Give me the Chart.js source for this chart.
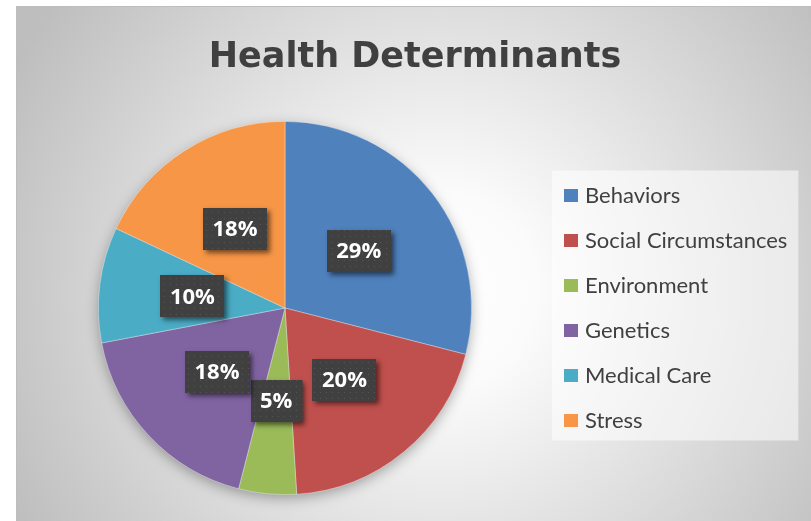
<!DOCTYPE html>
<html>
<head>
<meta charset="utf-8">
<script src="https://cdn.jsdelivr.net/npm/chart.js@4"></script>
<style>
  html, body { margin: 0; padding: 0; background: #ffffff; }
  #c { display: block; }
</style>
</head>
<body>
<canvas id="c" width="811" height="521"></canvas>
<script>
const chartTitle = "Health Determinants";
const categories = ["Behaviors", "Social Circumstances", "Environment", "Genetics", "Medical Care", "Stress"];
const shares = [29, 20, 5, 18, 10, 18];
const sliceColors = ["#4F81BD", "#C0504D", "#9BBB59", "#8064A2", "#4BACC6", "#F79646"];

const backgroundPlugin = {
  id: 'bg',
  beforeDraw(chart) {
    const ctx = chart.ctx;
    const W = chart.width, H = chart.height;
    ctx.save();
    ctx.fillStyle = '#ffffff';
    ctx.fillRect(0, 0, W, H);
    const x0 = 16, y0 = 6;
    const cx = 440, cy = 290;
    const g = ctx.createRadialGradient(cx, cy, 0, cx, cy, 480);
    g.addColorStop(0, '#ffffff');
    g.addColorStop(0.2, '#fbfbfb');
    g.addColorStop(1, '#bebebe');
    ctx.fillStyle = g;
    ctx.fillRect(x0, y0, W - x0, H - y0);
    ctx.strokeStyle = '#bdbdbd';
    ctx.lineWidth = 1;
    ctx.strokeRect(x0 + 0.5, y0 + 0.5, W - x0, H - y0);
    // legend panel
    const lg = chart.legend;
    if (lg && lg.legendHitBoxes && lg.legendHitBoxes.length) {
      const hb = lg.legendHitBoxes;
      let l = Infinity, t = Infinity, r = -Infinity, b = -Infinity;
      hb.forEach(h => {
        l = Math.min(l, h.left); t = Math.min(t, h.top);
        r = Math.max(r, h.left + h.width); b = Math.max(b, h.top + h.height);
      });
      ctx.fillStyle = 'rgba(255,255,255,0.55)';
      ctx.fillRect(l - 16, t - 14, (r + 11) - (l - 16), (b + 9) - (t - 14));
    }
    ctx.restore();
  }
};

const pieShadowPlugin = {
  id: 'pieShadow',
  beforeDatasetsDraw(chart) {
    const meta = chart.getDatasetMeta(0);
    if (!meta.data.length) return;
    const a = meta.data[0];
    const ctx = chart.ctx;
    ctx.save();
    ctx.shadowColor = 'rgba(0,0,0,0.35)';
    ctx.shadowBlur = 14;
    ctx.shadowOffsetX = 0;
    ctx.shadowOffsetY = 4;
    ctx.fillStyle = '#9a9a9a';
    ctx.beginPath();
    ctx.arc(a.x, a.y, a.outerRadius - 1, 0, Math.PI * 2);
    ctx.fill();
    ctx.restore();
  }
};

let dotPattern = null;
function getPattern(ctx) {
  if (dotPattern) return dotPattern;
  const pc = document.createElement('canvas');
  pc.width = 6; pc.height = 6;
  const p = pc.getContext('2d');
  p.fillStyle = '#404040';
  p.fillRect(0, 0, 6, 6);
  p.fillStyle = '#555555';
  p.fillRect(2, 2, 1, 1);
  dotPattern = ctx.createPattern(pc, 'repeat');
  return dotPattern;
}

const labelPlugin = {
  id: 'sliceLabels',
  afterDatasetsDraw(chart) {
    const ctx = chart.ctx;
    const meta = chart.getDatasetMeta(0);
    const data = chart.data.datasets[0].data;
    const total = data.reduce((s, v) => s + v, 0);
    ctx.save();
    ctx.font = 'bold 22px "Open Sans"';
    ctx.textAlign = 'center';
    ctx.textBaseline = 'middle';
    meta.data.forEach((arc, i) => {
      const pos = arc.tooltipPosition();
      const txt = Math.round(data[i] / total * 100) + '%';
      const tw = ctx.measureText(txt).width;
      const bw = tw + 19, bh = 42;
      const bx = Math.round(pos.x - bw / 2), by = Math.round(pos.y - bh / 2);
      ctx.save();
      ctx.shadowColor = 'rgba(0,0,0,0.55)';
      ctx.shadowBlur = 5;
      ctx.shadowOffsetX = 3;
      ctx.shadowOffsetY = 3;
      ctx.fillStyle = '#404040';
      ctx.fillRect(bx, by, bw, bh);
      ctx.restore();
      ctx.fillStyle = getPattern(ctx);
      ctx.fillRect(bx, by, bw, bh);
      ctx.fillStyle = '#ffffff';
      ctx.fillText(txt, pos.x, pos.y + 1);
    });
    ctx.restore();
  }
};

const legendWidthPlugin = {
  id: 'legendWidth',
  beforeInit(chart) {
    const lg = chart.legend;
    if (lg) {
      const orig = lg.fit;
      lg.fit = function () { orig.call(this); this.width = 260; };
    }
  }
};

new Chart(document.getElementById('c'), {
  type: 'pie',
  data: {
    labels: categories,
    datasets: [{
      data: shares,
      backgroundColor: sliceColors,
      borderColor: 'rgba(255,255,255,0.45)',
      borderWidth: 0.75,
      hoverOffset: 0
    }]
  },
  options: {
    responsive: false,
    animation: false,
    events: [],
    layout: { padding: { left: 25, right: 6, top: 0, bottom: 26 } },
    plugins: {
      title: {
        display: true,
        text: chartTitle,
        color: '#404040',
        font: { family: '"DejaVu Sans"', size: 35, weight: 'bold', lineHeight: 1.2 },
        padding: { top: 37, bottom: 42 }
      },
      legend: {
        display: true,
        position: 'right',
        align: 'center',
        fullSize: false,
        labels: {
          color: '#404040',
          font: { family: 'Lato', size: 22 },
          boxWidth: 6,
          boxHeight: 5,
          padding: 23,
          generateLabels(chart) {
            const items = Chart.overrides.pie.plugins.legend.labels.generateLabels(chart);
            items.forEach(it => {
              it.strokeStyle = it.fillStyle;
              it.lineWidth = 8;
              it.lineJoin = 'miter';
              it.lineCap = 'butt';
            });
            return items;
          }
        }
      },
      tooltip: { enabled: false }
    }
  },
  plugins: [legendWidthPlugin, backgroundPlugin, pieShadowPlugin, labelPlugin]
});
</script>
</body>
</html>
